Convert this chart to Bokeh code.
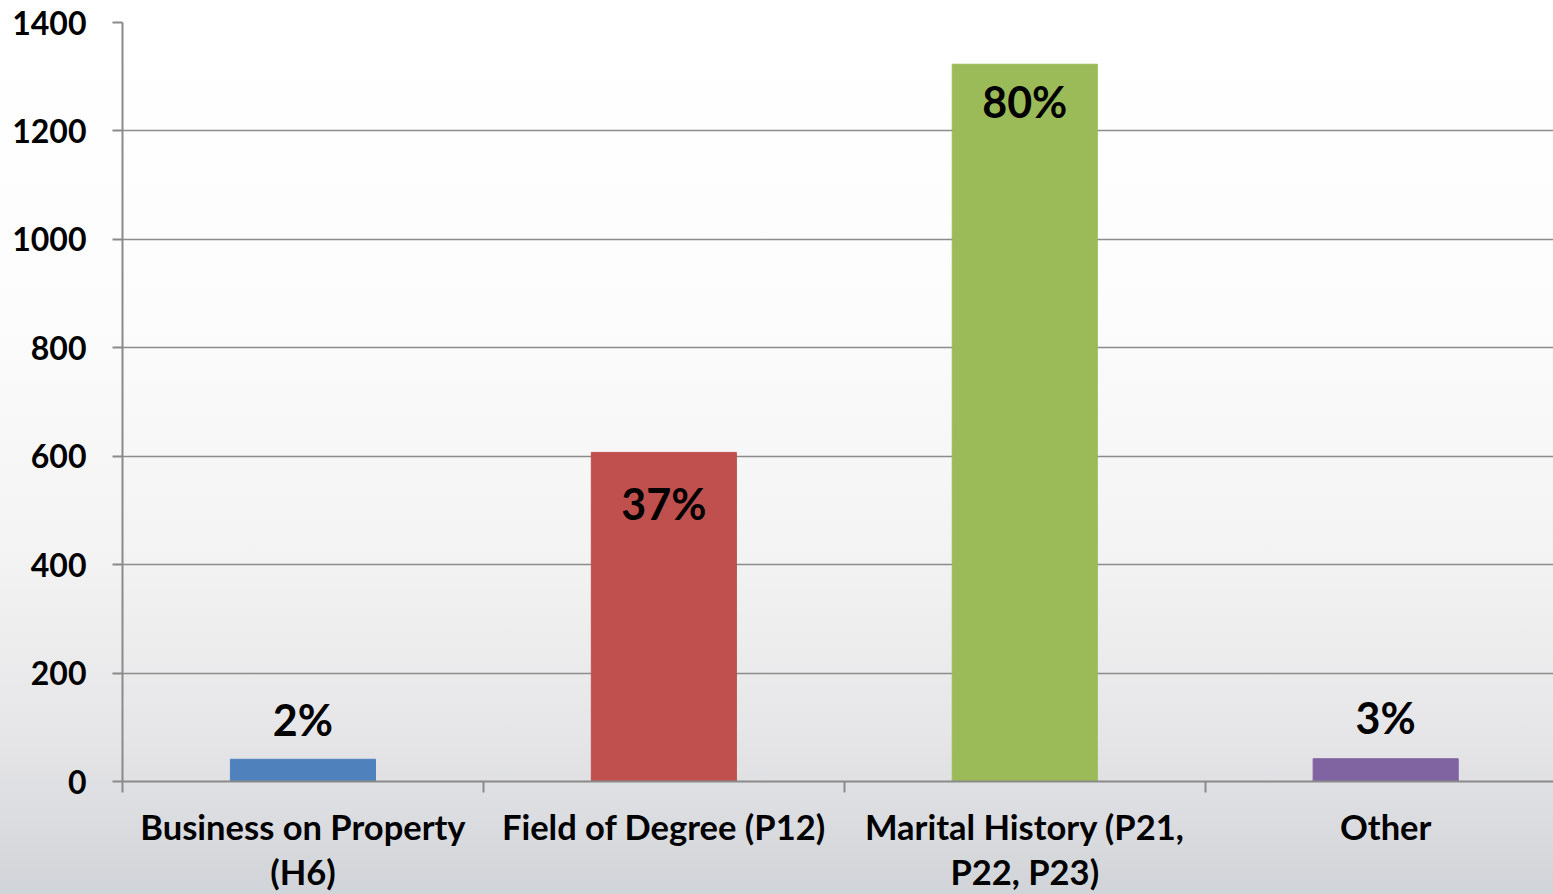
from bokeh.plotting import figure
from bokeh.models import FixedTicker, Range1d, ColumnDataSource
from bokeh.core.properties import value
from bokeh.embed import file_html
from bokeh.resources import INLINE

# ---- data ----
categories = ["Business on Property\n(H6)", "Field of Degree (P12)",
              "Marital History (P21,\nP22, P23)", "Other"]
counts = [41, 607, 1323, 42]
pct_labels = ["2%", "37%", "80%", "3%"]
y_ticks = [0, 200, 400, 600, 800, 1000, 1200, 1400]

# ---- styling ----
bar_colors = ["#4f81bd", "#c0504d", "#9bbb59", "#8064a2"]
label_offsets = [-40, 51, 37, -41]  # screen px relative to bar top
FONT = "Lato"
X_VISIBLE = 3.965  # plot area is cropped at the right edge in the original

xc = [i + 0.5 for i in range(len(categories))]
src = ColumnDataSource(dict(x=xc, top=counts, color=bar_colors,
                            label=pct_labels, yoff=label_offsets))

p = figure(width=1553, height=894, output_backend="svg", toolbar_location=None,
           x_range=Range1d(0, X_VISIBLE), y_range=Range1d(0, 1400),
           min_border_left=122, min_border_top=22, min_border_right=0,
           min_border_bottom=113)

p.border_fill_alpha = 0
p.background_fill_alpha = 0
p.outline_line_color = None
p.styles = {"background": "linear-gradient(to bottom, #ffffff 0%, #fcfcfc 35%, #f3f3f3 62%, #e6e6e8 82%, #d1d4d8 100%)"}

p.vbar(x="x", top="top", width=0.402, bottom=0, color="color", source=src)
p.text(x="x", y="top", text="label", y_offset="yoff", source=src,
       text_align="center", text_baseline="middle",
       text_font=value(FONT), text_font_style="bold", text_font_size="43px",
       text_color="#000000")

# y axis
p.yaxis.ticker = FixedTicker(ticks=y_ticks)
p.yaxis.axis_line_color = "#8a8a8a"
p.yaxis.axis_line_width = 2
p.yaxis.major_tick_line_color = "#8a8a8a"
p.yaxis.major_tick_line_width = 2
p.yaxis.major_tick_out = 10
p.yaxis.major_tick_in = 0
p.yaxis.minor_tick_line_color = None
p.yaxis.major_label_text_font = FONT
p.yaxis.major_label_text_font_style = "bold"
p.yaxis.major_label_text_font_size = "32px"
p.yaxis.major_label_text_color = "#000000"
p.yaxis.major_label_standoff = 26

# x axis
p.xaxis.ticker = FixedTicker(ticks=xc, minor_ticks=list(range(len(categories) + 1)))
p.xaxis.major_label_overrides = {v: c for v, c in zip(xc, categories)}
p.xaxis.axis_line_color = "#8a8a8a"
p.xaxis.axis_line_width = 2
p.xaxis.major_tick_line_color = None
p.xaxis.minor_tick_line_color = "#8a8a8a"
p.xaxis.minor_tick_line_width = 2
p.xaxis.minor_tick_out = 11
p.xaxis.minor_tick_in = 0
p.xaxis.major_label_text_font = FONT
p.xaxis.major_label_text_font_style = "bold"
p.xaxis.major_label_text_font_size = "34.5px"
p.xaxis.major_label_text_line_height = 1.1
p.xaxis.major_label_text_color = "#000000"
p.xaxis.major_label_standoff = 13

p.xgrid.grid_line_color = None
p.ygrid.ticker = FixedTicker(ticks=y_ticks)
p.ygrid.grid_line_color = "#8c8c8c"
p.ygrid.grid_line_width = 1.6

open("out.html", "w").write(file_html(p, INLINE))
